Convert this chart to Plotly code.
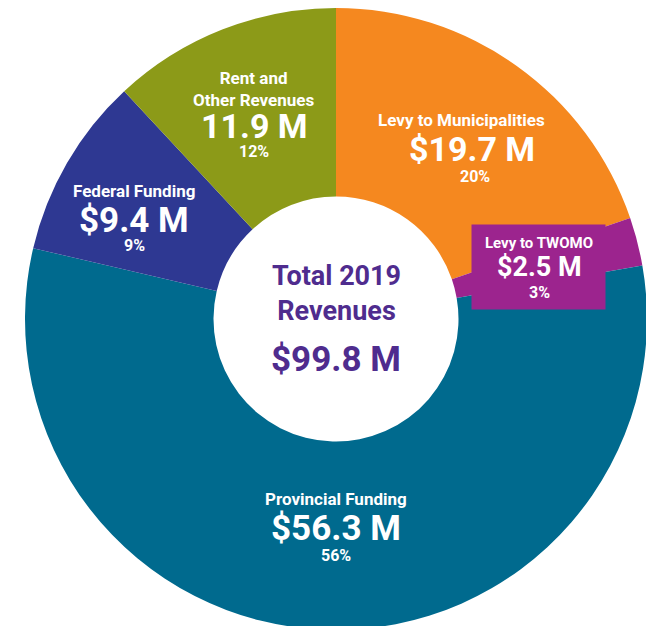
import plotly.graph_objects as go

# ---- data ----
labels = ["Levy to Municipalities", "Levy to TWOMO", "Provincial Funding",
          "Federal Funding", "Rent and Other Revenues"]
values = [19.7, 2.5, 56.3, 9.4, 11.9]
colors = ["#F5881F", "#9C248E", "#006A8E", "#2E3892", "#8C9A18"]
title_texts = ["Levy to Municipalities", "Levy to TWOMO", "Provincial Funding",
               "Federal Funding", "Rent and<br>Other Revenues"]
value_texts = ["$19.7 M", "$2.5 M", "$56.3 M", "$9.4 M", "11.9 M"]
pct_texts = ["20%", "3%", "56%", "9%", "12%"]
center_title = "Total 2019<br>Revenues"
center_total = "$99.8 M"

# ---- layout geometry (pixels) ----
W, H = 650, 640
CX, CY, R = 336, 319, 311
HOLE_R = 122.5


def px(x):
    return x / W


def py(y):
    return 1 - y / H


fig = go.Figure(go.Pie(
    labels=labels, values=values, sort=False, direction="clockwise",
    rotation=0, hole=HOLE_R / R,
    marker=dict(colors=colors, line=dict(width=0)),
    textinfo="none", hoverinfo="label+value",
    domain=dict(x=[px(CX - R), px(CX + R)], y=[py(CY + R), py(CY - R)]),
    showlegend=False,
))

FONT = "Roboto, 'Liberation Sans', Arial, sans-serif"
annotations = []


def add(text, x, y, size, color="white", **kw):
    annotations.append(dict(
        text=text, x=px(x), y=py(y), xref="paper", yref="paper",
        xanchor="center", yanchor="middle", showarrow=False, borderpad=0,
        font=dict(family=FONT, size=size, color=color, weight="bold"), **kw))


# TWOMO label box
annotations.append(dict(
    text="", x=px(538.5), y=py(267), xref="paper", yref="paper",
    xanchor="center", yanchor="middle", showarrow=False,
    width=133, height=84, bgcolor=colors[1], borderpad=0,
))

# label positions: (title y, value y, pct y, x, title size, value size, pct size)
pos = [
    (120, 149, 176, 461, 17, 34, 16),
    (243, 267, 292, 539, 15, 27, 16),
    (499, 528, 555, 336, 17, 35, 16),
    (191, 220, 245, 134, 17, 35, 16),
    (89, 126, 151, 254, 17, 34, 16),
]
for i in range(len(labels)):
    ty, vy, pyy, x, ts, vs, ps = pos[i]
    add(title_texts[i], x, ty, ts)
    add(value_texts[i], x + (11 if i == 0 else 0), vy, vs)
    add(pct_texts[i], x + (14 if i == 0 else 0), pyy, ps)

add(center_title, 336, 293, 27, color="#4F2C8E")
add(center_total, 336, 359, 35, color="#4F2C8E")

fig.update_layout(
    width=W, height=H, margin=dict(l=0, r=0, t=0, b=0),
    paper_bgcolor="white", plot_bgcolor="white",
    annotations=annotations,
)

fig.write_html(
    "out.html",
    config={"displayModeBar": False},
    post_script="document.body.style.margin='0';document.body.style.overflow='hidden';",
)
